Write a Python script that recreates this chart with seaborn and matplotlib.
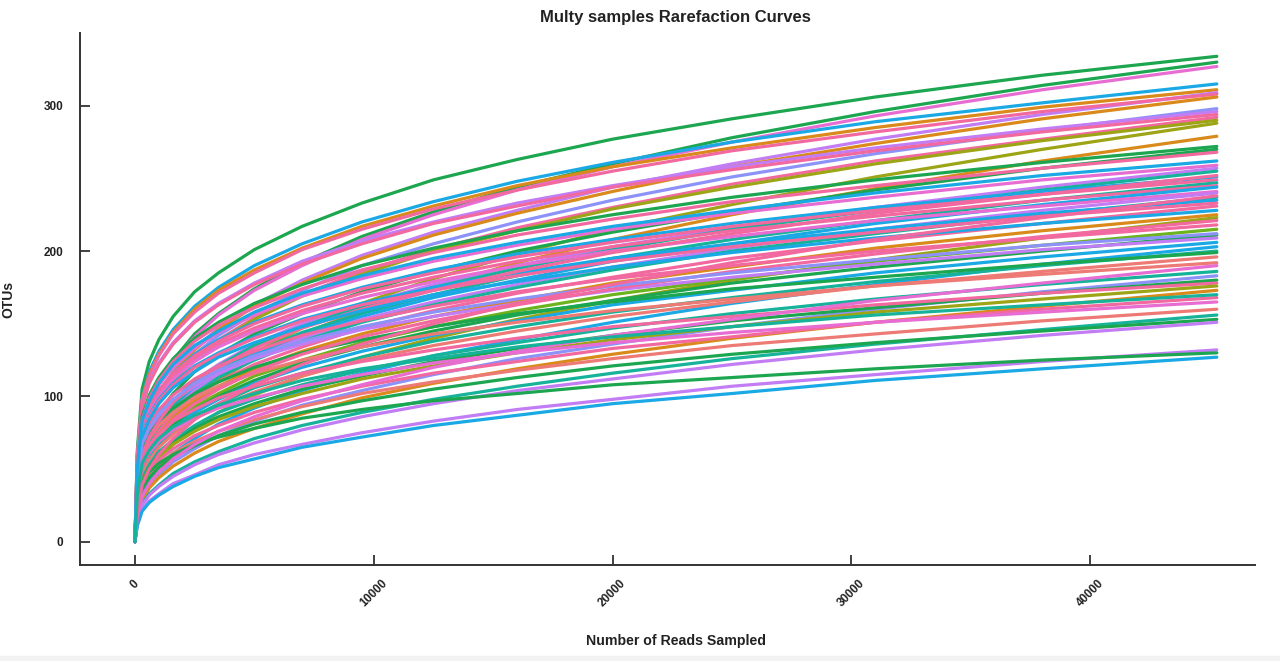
import numpy as np
import pandas as pd
import matplotlib
matplotlib.use("Agg")
import matplotlib.pyplot as plt
from matplotlib.patches import Rectangle
import seaborn as sns

depth = [0, 100, 300, 600, 1000, 1600, 2500, 3500, 5000, 7000, 9500,
         12500, 16000, 20000, 25000, 31000, 38000, 45300]

# sample -> colour group, OTUs observed at each depth
groups = [
    "green", "green", "magenta", "blue", "orange", "purple", "pink", "orange",
    "violet", "purple", "pink", "pink", "olive", "olive", "orange", "green",
    "green", "pink", "magenta", "purple", "teal", "blue", "pink", "teal",
    "pink", "blue", "magenta", "purple", "teal", "blue", "pink", "pink",
    "orange", "olive", "pink", "lime", "green", "purple", "blue", "blue",
    "teal", "green", "salmon", "salmon", "teal", "violet", "green", "pink",
    "olive", "orange", "pink", "magenta", "salmon", "teal", "green", "purple",
    "purple", "green", "blue",
    "pink", "blue", "pink", "violet", "magenta", "pink", "blue", "teal",
]
otus = [
    [0, 63, 105, 124, 139, 155, 172, 185, 201, 217, 233, 249, 263, 277, 291, 306, 321, 334],
    [0, 46, 77, 94, 109, 125, 143, 157, 174, 192, 210, 227, 244, 260, 278, 296, 314, 330],
    [0, 46, 76, 93, 108, 124, 141, 156, 173, 190, 208, 225, 242, 258, 275, 293, 311, 327],
    [0, 60, 99, 117, 131, 146, 162, 175, 190, 205, 220, 234, 248, 261, 275, 289, 302, 315],
    [0, 59, 98, 115, 129, 144, 160, 173, 187, 202, 217, 231, 245, 258, 271, 285, 299, 311],
    [0, 43, 72, 88, 102, 117, 133, 147, 163, 180, 197, 213, 228, 244, 260, 277, 294, 309],
    [0, 59, 97, 114, 128, 143, 158, 171, 185, 201, 215, 229, 242, 255, 269, 282, 296, 308],
    [0, 43, 71, 87, 101, 116, 132, 146, 162, 178, 195, 211, 226, 241, 258, 274, 291, 306],
    [0, 42, 69, 85, 99, 113, 129, 142, 157, 173, 190, 205, 220, 235, 251, 267, 283, 298],
    [0, 56, 93, 110, 123, 137, 152, 164, 178, 193, 207, 220, 233, 245, 258, 271, 284, 296],
    [0, 56, 93, 109, 122, 136, 151, 163, 177, 191, 205, 219, 231, 244, 256, 269, 282, 294],
    [0, 41, 68, 83, 97, 111, 126, 139, 154, 170, 186, 201, 216, 230, 246, 262, 277, 292],
    [0, 41, 68, 83, 96, 110, 125, 138, 153, 169, 184, 200, 214, 229, 244, 260, 276, 290],
    [0, 26, 47, 61, 73, 86, 101, 115, 130, 147, 164, 181, 198, 215, 232, 251, 270, 288],
    [0, 25, 46, 59, 71, 84, 98, 111, 126, 143, 159, 175, 192, 208, 225, 243, 262, 279],
    [0, 52, 86, 101, 113, 126, 140, 151, 164, 177, 190, 202, 214, 225, 237, 249, 261, 272],
    [0, 38, 63, 77, 89, 102, 117, 129, 143, 157, 172, 186, 200, 213, 227, 242, 257, 270],
    [0, 51, 84, 99, 111, 124, 138, 149, 161, 174, 187, 199, 211, 222, 234, 245, 257, 268],
    [0, 49, 82, 96, 108, 120, 133, 144, 156, 169, 181, 193, 204, 215, 226, 237, 249, 259],
    [0, 36, 60, 73, 85, 97, 111, 122, 136, 150, 163, 177, 190, 203, 216, 230, 244, 257],
    [0, 36, 59, 73, 84, 97, 110, 121, 135, 148, 162, 175, 188, 201, 215, 228, 242, 255],
    [0, 48, 79, 93, 104, 116, 129, 139, 151, 163, 175, 187, 198, 208, 219, 230, 241, 251],
    [0, 47, 78, 92, 104, 116, 128, 138, 150, 162, 174, 185, 196, 206, 217, 228, 239, 249],
    [0, 35, 58, 70, 82, 94, 107, 118, 130, 144, 157, 170, 183, 195, 208, 221, 235, 247],
    [0, 47, 77, 91, 102, 114, 126, 136, 147, 159, 171, 182, 193, 203, 214, 224, 235, 245],
    [0, 34, 57, 70, 81, 92, 105, 116, 129, 142, 155, 168, 180, 193, 205, 219, 232, 244],
    [0, 46, 76, 89, 100, 112, 124, 134, 145, 157, 168, 179, 190, 200, 210, 221, 231, 241],
    [0, 34, 56, 68, 79, 91, 104, 114, 127, 140, 153, 165, 177, 189, 202, 215, 228, 240],
    [0, 33, 55, 68, 78, 90, 102, 113, 125, 138, 151, 163, 175, 187, 200, 212, 225, 237],
    [0, 45, 74, 87, 98, 109, 121, 130, 141, 153, 164, 175, 185, 195, 205, 215, 226, 235],
    [0, 44, 73, 86, 97, 108, 120, 129, 140, 152, 163, 173, 183, 193, 203, 213, 224, 233],
    [0, 32, 54, 66, 76, 88, 100, 110, 122, 134, 147, 159, 171, 182, 195, 207, 219, 231],
    [0, 32, 52, 64, 74, 85, 97, 107, 119, 131, 143, 155, 166, 178, 189, 202, 214, 225],
    [0, 20, 37, 47, 56, 67, 78, 89, 101, 114, 127, 140, 153, 166, 180, 194, 209, 223],
    [0, 41, 69, 81, 91, 101, 112, 121, 131, 142, 152, 162, 172, 181, 190, 200, 209, 218],
    [0, 30, 50, 61, 71, 81, 93, 102, 114, 125, 137, 148, 159, 170, 181, 193, 204, 215],
    [0, 30, 49, 60, 70, 80, 91, 100, 111, 123, 134, 145, 156, 166, 178, 189, 200, 211],
    [0, 40, 66, 77, 87, 97, 107, 116, 126, 136, 146, 155, 164, 173, 182, 191, 201, 209],
    [0, 29, 48, 59, 68, 78, 89, 98, 109, 120, 131, 142, 152, 163, 173, 185, 196, 206],
    [0, 18, 33, 43, 51, 61, 71, 81, 92, 104, 116, 128, 139, 151, 164, 177, 191, 203],
    [0, 28, 47, 57, 66, 76, 86, 95, 106, 116, 127, 138, 148, 158, 168, 179, 190, 200],
    [0, 38, 63, 74, 83, 92, 102, 110, 120, 130, 139, 148, 157, 165, 174, 182, 191, 199],
    [0, 27, 46, 56, 65, 74, 85, 93, 103, 114, 125, 135, 145, 155, 165, 176, 186, 196],
    [0, 36, 60, 71, 80, 89, 99, 107, 116, 125, 134, 143, 151, 159, 167, 176, 184, 192],
    [0, 26, 43, 53, 62, 70, 80, 89, 98, 108, 118, 128, 137, 147, 157, 167, 177, 186],
    [0, 16, 30, 39, 46, 55, 64, 73, 83, 94, 104, 115, 126, 136, 148, 160, 172, 183],
    [0, 25, 42, 51, 60, 68, 78, 86, 95, 105, 114, 124, 133, 142, 152, 161, 171, 180],
    [0, 34, 56, 66, 74, 83, 91, 99, 107, 116, 124, 132, 140, 148, 155, 163, 171, 178],
    [0, 25, 41, 50, 58, 67, 76, 84, 93, 102, 112, 121, 130, 139, 148, 158, 167, 176],
    [0, 16, 28, 37, 44, 52, 61, 69, 78, 88, 99, 109, 119, 129, 140, 151, 162, 173],
    [0, 24, 39, 48, 56, 64, 73, 80, 89, 98, 107, 116, 124, 133, 141, 151, 160, 168],
    [0, 31, 52, 61, 69, 77, 85, 92, 99, 107, 115, 123, 130, 137, 144, 151, 158, 165],
    [0, 22, 37, 46, 53, 61, 69, 76, 84, 93, 102, 110, 118, 126, 135, 143, 152, 160],
    [0, 14, 26, 33, 39, 47, 55, 62, 71, 80, 89, 98, 107, 116, 126, 136, 146, 156],
    [0, 21, 36, 44, 51, 58, 66, 73, 81, 89, 97, 105, 113, 121, 129, 137, 145, 153],
    [0, 14, 25, 32, 38, 45, 53, 60, 68, 77, 86, 95, 104, 112, 122, 132, 142, 151],
    [0, 12, 22, 28, 33, 40, 46, 53, 60, 67, 75, 83, 91, 98, 107, 115, 124, 132],
    [0, 25, 41, 48, 54, 60, 67, 72, 78, 85, 91, 97, 102, 108, 113, 119, 125, 130],
    [0, 11, 21, 27, 32, 38, 45, 51, 57, 65, 72, 80, 87, 95, 102, 111, 119, 127],
    [0, 35, 59, 72, 83, 96, 109, 120, 133, 147, 160, 173, 186, 199, 212, 226, 239, 252],
    [0, 43, 72, 84, 95, 106, 117, 127, 137, 148, 159, 170, 179, 189, 199, 209, 219, 228],
    [0, 31, 51, 63, 73, 84, 95, 105, 117, 129, 141, 152, 163, 174, 186, 198, 210, 221],
    [0, 40, 67, 78, 88, 98, 109, 118, 128, 138, 148, 158, 167, 176, 185, 194, 204, 212],
    [0, 17, 31, 40, 48, 57, 67, 76, 86, 97, 108, 120, 131, 142, 153, 166, 178, 190],
    [0, 21, 39, 50, 60, 71, 84, 95, 108, 122, 136, 150, 164, 177, 192, 208, 223, 238],
    [0, 50, 83, 97, 109, 122, 135, 145, 158, 171, 183, 195, 206, 217, 228, 240, 252, 262],
    [0, 32, 54, 63, 71, 79, 87, 94, 102, 111, 119, 126, 134, 141, 148, 156, 163, 170],
]
samples = [f"S{i:02d}" for i in range(1, len(otus) + 1)]

group_colors = {
    "green": "#1DA650", "blue": "#1AA9E4", "pink": "#F2699F",
    "magenta": "#E86DD3", "salmon": "#EE7A75", "orange": "#D98A1A",
    "purple": "#C27DF5", "violet": "#8C92F8", "olive": "#9DA516",
    "teal": "#16B39A", "lime": "#6DB31E",
}

rows = []
for s, g, vals in zip(samples, groups, otus):
    for d, v in zip(depth, vals):
        rows.append((s, g, d, v))
df = pd.DataFrame(rows, columns=["sample", "group", "reads", "otus"])
palette = {s: group_colors[g] for s, g in zip(samples, groups)}

sns.set_style("white")
plt.rcParams["font.family"] = ["Liberation Sans", "DejaVu Sans"]

fig = plt.figure(figsize=(12.8, 6.61), dpi=100)
ax = fig.add_axes([0.0625, 0.1452, 0.918, 0.8048])

sns.lineplot(data=df, x="reads", y="otus", hue="sample", palette=palette,
             estimator=None, sort=False, linewidth=2.3, legend=False, ax=ax)

ax.set_xlim(-2300, 46900)
ax.set_ylim(-16, 350)
ax.set_xticks([0, 10000, 20000, 30000, 40000])
ax.set_yticks([0, 100, 200, 300])
for side in ["top", "right"]:
    ax.spines[side].set_visible(False)
for side in ["left", "bottom"]:
    ax.spines[side].set_color("#333333")
    ax.spines[side].set_linewidth(1.4)
ax.tick_params(bottom=True, left=True, direction="in", length=7, width=1.3,
               colors="#333333", labelsize=8.5, labelcolor="#222222")
ax.tick_params(axis="x", pad=9)
ax.tick_params(axis="y", pad=12)
for lab in ax.get_xticklabels():
    lab.set_rotation(45)
    lab.set_ha("center")
    lab.set_va("top")
    lab.set_fontweight("bold")
for lab in ax.get_yticklabels():
    lab.set_fontweight("bold")

ax.set_xlabel("Number of Reads Sampled", fontsize=10.2, fontweight="bold",
              color="#222222", labelpad=18, x=0.507)
ax.set_ylabel("OTUs", fontsize=10, fontweight="bold", color="#222222",
              labelpad=20)
ax.set_title("Multy samples Rarefaction Curves", fontsize=12,
             fontweight="bold", color="#222222", pad=8, x=0.507)

fig.add_artist(Rectangle((0, 0), 1, 5 / 661, transform=fig.transFigure,
                         color="#f2f2f2", zorder=-1))

fig.savefig("out.png", dpi=100)
